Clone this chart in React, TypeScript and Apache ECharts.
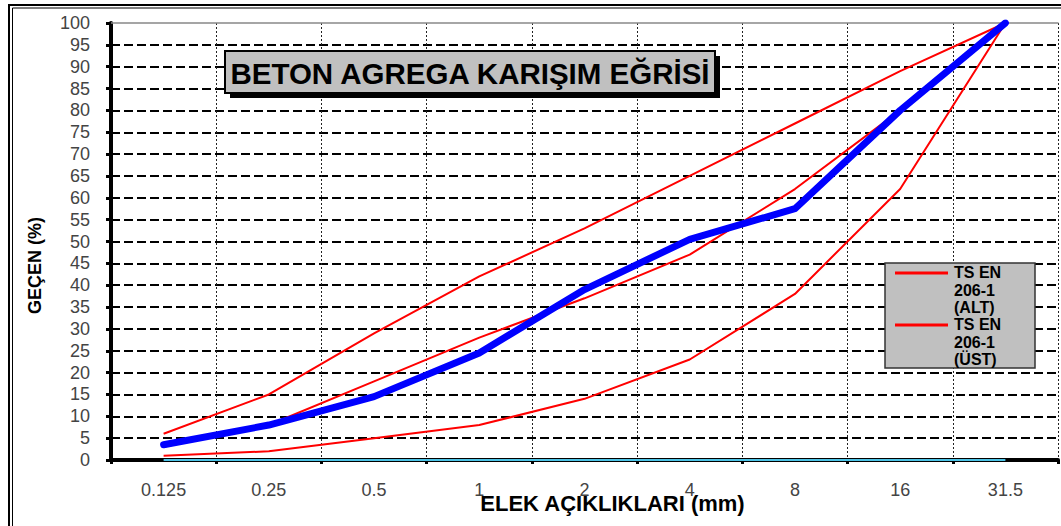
import React, { useEffect, useRef } from "react";
import * as echarts from "echarts";

const FONT = "'Liberation Sans', Arial, sans-serif";

const categories = ["0.125", "0.25", "0.5", "1", "2", "4", "8", "16", "31.5"];
const mixValues = [3.5, 8, 14.5, 24.5, 39, 50.5, 57.5, 80, 100];
const limitLower = [1, 2, 5, 8, 14, 23, 38, 62, 100];
const limitMiddle = [3, 8, 18, 28, 37, 47, 62, 80, 100];
const limitUpper = [6, 15, 29, 42, 53, 65, 77, 89, 100];
const baseline = [0, 0, 0, 0, 0, 0, 0, 0, 0];

const titleText = "BETON AGREGA KARIŞIM EĞRİSİ";
const xName = "ELEK AÇIKLIKLARI (mm)";
const yName = "GEÇEN (%)";
const legendAlt = "TS EN\n206-1\n(ALT)";
const legendUst = "TS EN\n206-1\n(ÜST)";

export default function App() {
  const ref = useRef<HTMLDivElement>(null);
  useEffect(() => {
    const chart = echarts.init(ref.current!, null, { renderer: "svg" });
    const red = (name: string, data: number[]) => ({
      name,
      type: "line",
      data,
      symbol: "none",
      lineStyle: { color: "#ff0000", width: 2 },
      itemStyle: { color: "#ff0000" },
      z: 3,
    });
    chart.setOption({
      animation: false,
      backgroundColor: "#ffffff",
      textStyle: { fontFamily: FONT },
      grid: { left: 111, right: 3, top: 23, bottom: 66, containLabel: false, outerBoundsMode: "none" },
      xAxis: [
        {
          type: "category",
          data: categories,
          boundaryGap: true,
          axisLine: { lineStyle: { color: "#000", width: 4 } },
          axisTick: { show: true, interval: 0, length: 4, lineStyle: { color: "#000", width: 3 } },
          axisLabel: { interval: 0, margin: 21, fontSize: 18, color: "#444", fontFamily: FONT },
          splitLine: { show: true, interval: 0, lineStyle: { color: "#222", width: 1, type: [2, 2] } },
          name: xName,
          nameLocation: "middle",
          nameGap: 32,
          nameMoveOverlap: false,
          nameTextStyle: { fontSize: 22, fontWeight: "bold", color: "#000", fontFamily: FONT, padding: [0, 0, 0, 56] },
        },
        {
          type: "category",
          data: categories,
          position: "top",
          axisLine: { show: true, lineStyle: { color: "#888", width: 1.5 } },
          axisTick: { show: false },
          axisLabel: { show: false },
          splitLine: { show: false },
        },
      ],
      yAxis: {
        type: "value",
        min: 0,
        max: 100,
        interval: 5,
        axisLine: { show: true, lineStyle: { color: "#000", width: 4 } },
        axisTick: { show: true, length: 5, lineStyle: { color: "#000", width: 3 } },
        axisLabel: { margin: 21, fontSize: 18, color: "#444", fontFamily: FONT },
        splitLine: { show: true, showMaxLine: false, lineStyle: { color: "#000", width: 2, type: [9, 4] } },
        name: yName,
        nameLocation: "middle",
        nameGap: 67,
        nameRotate: 90,
        nameMoveOverlap: false,
        nameTextStyle: { fontSize: 18, fontWeight: "bold", color: "#000", fontFamily: FONT, padding: [0, 48, 0, 0] },
      },
      series: [
        {
          name: "baseline",
          type: "line",
          data: baseline,
          symbol: "none",
          lineStyle: { color: "#4cc3e6", width: 2 },
          z: 3,
        },
        red("TS EN 206-1 (ALT)", limitLower),
        red("TS EN 206-1 (B)", limitMiddle),
        red("TS EN 206-1 (ÜST)", limitUpper),
        {
          name: "KARIŞIM",
          type: "line",
          data: mixValues,
          symbol: "none",
          lineStyle: { color: "#0000ff", width: 7, cap: "round", join: "round" },
          itemStyle: { color: "#0000ff" },
          z: 4,
        },
      ],
      graphic: [
        { type: "rect", z: 50, shape: { x: 9, y: 5, width: 1100, height: 600 }, style: { fill: "none", stroke: "#000", lineWidth: 2 } },
        { type: "rect", z: 50, shape: { x: 12.5, y: 8, width: 1100, height: 600 }, style: { fill: "none", stroke: "#000", lineWidth: 1 } },
        { type: "rect", z: 100, shape: { x: 230, y: 56, width: 490, height: 42 }, style: { fill: "#000" } },
        { type: "rect", z: 101, shape: { x: 225, y: 51, width: 490, height: 42 }, style: { fill: "#c0c0c0", stroke: "#000", lineWidth: 2 } },
        {
          type: "text", z: 102, x: 470, y: 73,
          style: { text: titleText, font: `bold 29.5px ${FONT}`, fill: "#000", align: "center", verticalAlign: "middle", textAlign: "center", textVerticalAlign: "middle" },
        },
        { type: "rect", z: 100, shape: { x: 885, y: 263, width: 150, height: 105 }, style: { fill: "#c0c0c0", stroke: "#333", lineWidth: 1.5 } },
        { type: "line", z: 101, shape: { x1: 895, y1: 273, x2: 948, y2: 273 }, style: { stroke: "#ff0000", lineWidth: 3 } },
        { type: "line", z: 101, shape: { x1: 895, y1: 325, x2: 948, y2: 325 }, style: { stroke: "#ff0000", lineWidth: 3 } },
        {
          type: "text", z: 102, x: 954, y: 264,
          style: { text: legendAlt, font: `bold 16px ${FONT}`, lineHeight: 17.5, fill: "#000", align: "left", verticalAlign: "top", textAlign: "left", textVerticalAlign: "top" },
        },
        {
          type: "text", z: 102, x: 954, y: 316,
          style: { text: legendUst, font: `bold 16px ${FONT}`, lineHeight: 17.5, fill: "#000", align: "left", verticalAlign: "top", textAlign: "left", textVerticalAlign: "top" },
        },
      ],
    });
    return () => chart.dispose();
  }, []);
  return (
    <div
      ref={ref}
      style={{ position: "fixed", left: 0, top: 0, width: 1061, height: 526, background: "#fff" }}
    />
  );
}
